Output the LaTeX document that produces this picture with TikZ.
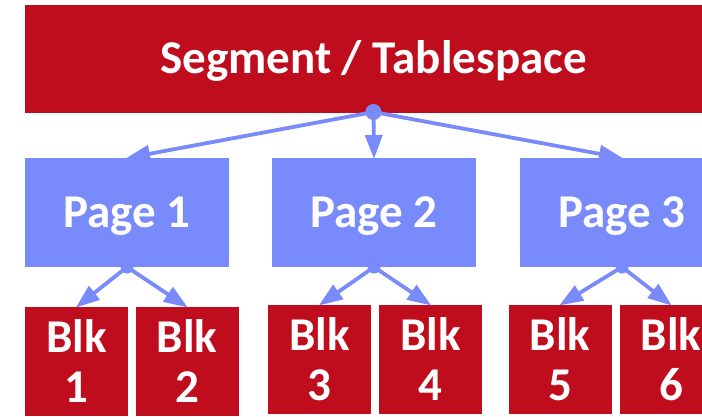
\documentclass[tikz,border=0pt]{standalone}
\usepackage{fontspec}
\setmainfont{Carlito}
\usetikzlibrary{arrows.meta}
\definecolor{segred}{HTML}{C00D1E}
\definecolor{pageblue}{HTML}{798BFA}
\begin{document}
\begin{tikzpicture}[x=1pt,y=-1pt,
  box/.style={draw=none, inner sep=0pt, outer sep=0pt, text=white,
    font=\fontsize{47}{50}\selectfont\bfseries},
  oneline/.style={text height=29pt, text depth=0pt},
  segbox/.style={box, oneline, fill=segred, minimum width=697pt, minimum height=108pt},
  pagebox/.style={box, oneline, fill=pageblue, minimum width=204pt, minimum height=109pt},
  blkbox/.style={box, align=center, fill=segred, minimum width=103pt, minimum height=109pt},
  link/.style={draw=pageblue, line width=3.8pt,
    -{Triangle[length=24pt,width=17pt]}, shorten >=-1pt},
  hub/.style={circle, fill=pageblue, inner sep=0pt, minimum size=#1},
  hub/.default=16pt]
  \useasboundingbox (0,0) rectangle (702,416);
  \clip (0,0) rectangle (702,416);

  % tablespace
  \node[segbox] (seg) at (373.5,59) {Segment / Tablespace};

  % pages
  \node[pagebox] (p1) at (127,212.5) {Page 1};
  \node[pagebox] (p2) at (374,212.5) {Page 2};
  \node[pagebox] (p3) at (622,212.5) {Page 3};

  % blocks
  \node[blkbox] (b1) at (76.5,361.5) {Blk\\1};
  \node[blkbox] (b2) at (187,361.5)  {Blk\\2};
  \node[blkbox] (b3) at (319.5,359.5) {Blk\\3};
  \node[blkbox] (b4) at (430.5,359.5) {Blk\\4};
  \node[blkbox] (b5) at (560,359.5)  {Blk\\5};
  \node[blkbox] (b6) at (671,359.5)  {Blk\\6};

  % branching points
  \coordinate (h0) at ([yshift=1pt]seg.south);
  \coordinate (h1) at (p1.south);
  \coordinate (h2) at (p2.south);
  \coordinate (h3) at (p3.south);

  % connectors
  \draw[link] (h0) -- (p1.north);
  \draw[link] (h0) -- (p2.north);
  \draw[link] (h0) -- (p3.north);
  \draw[link] (h1) -- (b1.north);
  \draw[link] (h1) -- (b2.north);
  \draw[link] (h2) -- (b3.north);
  \draw[link] (h2) -- (b4.north);
  \draw[link] (h3) -- (b5.north);
  \draw[link] (h3) -- (b6.north);

  % dots on top of the connector starts
  \node[hub] (d0) at (h0) {};
  \node[hub=13pt] (d1) at (h1) {};
  \node[hub=13pt] (d2) at (h2) {};
  \node[hub=13pt] (d3) at (h3) {};
\end{tikzpicture}
\end{document}
